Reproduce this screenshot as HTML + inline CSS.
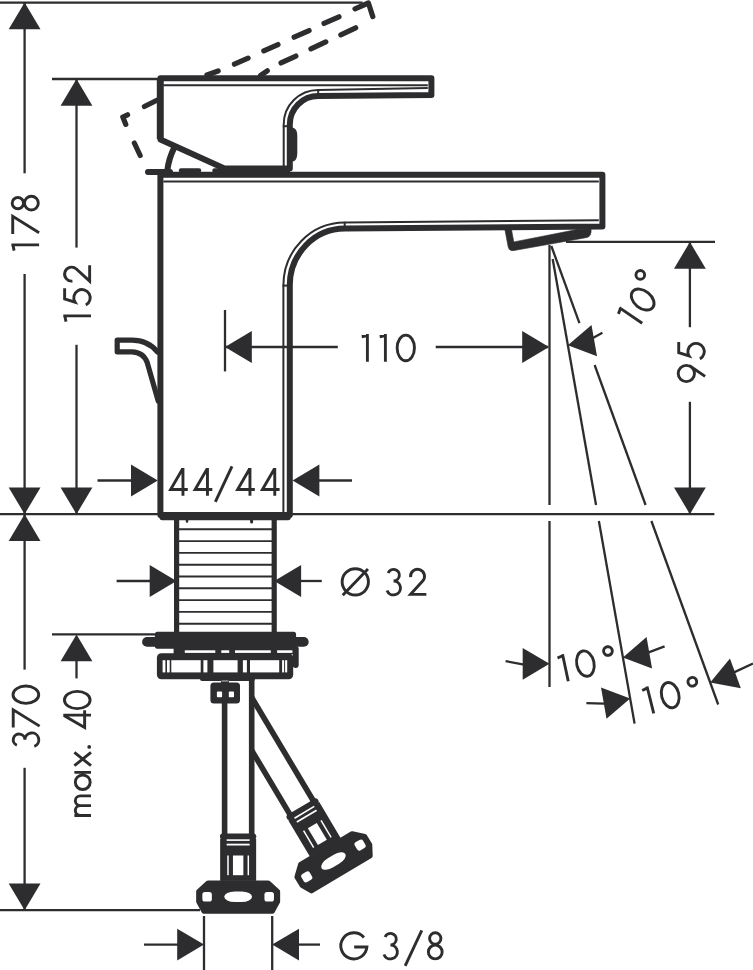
<!DOCTYPE html>
<html><head><meta charset="utf-8"><title>drawing</title>
<style>
html,body{margin:0;padding:0;background:#fff;}
svg{display:block;font-family:"Liberation Sans",sans-serif;}
</style></head><body>
<svg width="753" height="970" viewBox="0 0 753 970">
<rect width="753" height="970" fill="#fff"/>
<line x1="0" y1="2.6" x2="362.6" y2="2.6" stroke="#2d2d2f" stroke-width="2.3" stroke-linecap="butt" />
<line x1="24.6" y1="2.6" x2="24.6" y2="173.3" stroke="#2d2d2f" stroke-width="2.3" stroke-linecap="butt" />
<line x1="24.6" y1="274" x2="24.6" y2="514.2" stroke="#2d2d2f" stroke-width="2.3" stroke-linecap="butt" />
<polygon points="24.6,2.4 40.5,29.2 8.7,29.2" fill="#2d2d2f"/>
<polygon points="24.6,514.2 8.7,487.4 40.5,487.4" fill="#2d2d2f"/>
<line x1="52" y1="79" x2="160" y2="79" stroke="#2d2d2f" stroke-width="2.3" stroke-linecap="butt" />
<line x1="76.5" y1="79" x2="76.5" y2="247.6" stroke="#2d2d2f" stroke-width="2.3" stroke-linecap="butt" />
<line x1="76.5" y1="344.8" x2="76.5" y2="514.2" stroke="#2d2d2f" stroke-width="2.3" stroke-linecap="butt" />
<polygon points="76.5,79 92.4,105.8 60.6,105.8" fill="#2d2d2f"/>
<polygon points="76.5,514.2 60.6,487.4 92.4,487.4" fill="#2d2d2f"/>
<line x1="0" y1="514.2" x2="160" y2="514.2" stroke="#2d2d2f" stroke-width="2.3" stroke-linecap="butt" />
<line x1="292" y1="514.2" x2="714.4" y2="514.2" stroke="#2d2d2f" stroke-width="2.3" stroke-linecap="butt" />
<line x1="24.6" y1="514.2" x2="24.6" y2="669.6" stroke="#2d2d2f" stroke-width="2.3" stroke-linecap="butt" />
<line x1="24.6" y1="767.8" x2="24.6" y2="910.2" stroke="#2d2d2f" stroke-width="2.3" stroke-linecap="butt" />
<polygon points="24.6,514.2 40.5,541 8.7,541" fill="#2d2d2f"/>
<polygon points="24.6,910.2 8.7,883.4 40.5,883.4" fill="#2d2d2f"/>
<line x1="0" y1="910.2" x2="200" y2="910.2" stroke="#2d2d2f" stroke-width="2.3" stroke-linecap="butt" />
<line x1="52" y1="634.4" x2="160" y2="634.4" stroke="#2d2d2f" stroke-width="2.3" stroke-linecap="butt" />
<polygon points="76.5,634.4 92.4,661.2 60.6,661.2" fill="#2d2d2f"/>
<line x1="76.5" y1="655" x2="76.5" y2="678.4" stroke="#2d2d2f" stroke-width="2.3" stroke-linecap="butt" />
<line x1="566" y1="241.9" x2="715" y2="241.9" stroke="#2d2d2f" stroke-width="2.3" stroke-linecap="butt" />
<line x1="689.9" y1="241.9" x2="689.9" y2="327.2" stroke="#2d2d2f" stroke-width="2.3" stroke-linecap="butt" />
<line x1="689.9" y1="401.8" x2="689.9" y2="514.2" stroke="#2d2d2f" stroke-width="2.3" stroke-linecap="butt" />
<polygon points="689.9,241.9 705.8,268.7 674,268.7" fill="#2d2d2f"/>
<polygon points="689.9,514.2 674,487.4 705.8,487.4" fill="#2d2d2f"/>
<line x1="225" y1="310" x2="225" y2="371.4" stroke="#2d2d2f" stroke-width="2.3" stroke-linecap="butt" />
<line x1="225" y1="347" x2="337.8" y2="347" stroke="#2d2d2f" stroke-width="2.3" stroke-linecap="butt" />
<line x1="435.7" y1="347" x2="548" y2="347" stroke="#2d2d2f" stroke-width="2.3" stroke-linecap="butt" />
<polygon points="225,347 251.8,331.1 251.8,362.9" fill="#2d2d2f"/>
<polygon points="549,347 522.2,362.9 522.2,331.1" fill="#2d2d2f"/>
<line x1="97.5" y1="480.5" x2="135" y2="480.5" stroke="#2d2d2f" stroke-width="2.3" stroke-linecap="butt" />
<polygon points="157.8,480.5 131,496.4 131,464.6" fill="#2d2d2f"/>
<polygon points="292.6,480.5 319.4,464.6 319.4,496.4" fill="#2d2d2f"/>
<line x1="310" y1="480.5" x2="352" y2="480.5" stroke="#2d2d2f" stroke-width="2.3" stroke-linecap="butt" />
<line x1="116.6" y1="581" x2="152" y2="581" stroke="#2d2d2f" stroke-width="2.3" stroke-linecap="butt" />
<polygon points="176.5,581 149.7,596.9 149.7,565.1" fill="#2d2d2f"/>
<polygon points="274.3,581 301.1,565.1 301.1,596.9" fill="#2d2d2f"/>
<line x1="299" y1="581" x2="321.8" y2="581" stroke="#2d2d2f" stroke-width="2.3" stroke-linecap="butt" />
<line x1="204" y1="916" x2="204" y2="970" stroke="#2d2d2f" stroke-width="2.3" stroke-linecap="butt" />
<line x1="272.2" y1="916" x2="272.2" y2="970" stroke="#2d2d2f" stroke-width="2.3" stroke-linecap="butt" />
<line x1="144" y1="944.6" x2="180" y2="944.6" stroke="#2d2d2f" stroke-width="2.3" stroke-linecap="butt" />
<polygon points="204,944.6 177.2,960.5 177.2,928.7" fill="#2d2d2f"/>
<polygon points="272.2,944.6 299,928.7 299,960.5" fill="#2d2d2f"/>
<line x1="296" y1="944.6" x2="320" y2="944.6" stroke="#2d2d2f" stroke-width="2.3" stroke-linecap="butt" />
<line x1="549.5" y1="245" x2="549.5" y2="505" stroke="#2d2d2f" stroke-width="2.3" stroke-linecap="butt" />
<line x1="549.5" y1="521" x2="549.5" y2="687" stroke="#2d2d2f" stroke-width="2.3" stroke-linecap="butt" />
<line x1="552.67" y1="259" x2="596.05" y2="505" stroke="#2d2d2f" stroke-width="2.3" stroke-linecap="butt" />
<line x1="598.87" y1="521" x2="634.6" y2="723.6" stroke="#2d2d2f" stroke-width="2.3" stroke-linecap="butt" />
<line x1="551.32" y1="246" x2="579.42" y2="323.2" stroke="#2d2d2f" stroke-width="2.3" stroke-linecap="butt" />
<line x1="594.63" y1="365" x2="645.59" y2="505" stroke="#2d2d2f" stroke-width="2.3" stroke-linecap="butt" />
<line x1="651.41" y1="521" x2="718.2" y2="704.5" stroke="#2d2d2f" stroke-width="2.3" stroke-linecap="butt" />
<polygon points="549.5,663.8 522.7,679.7 522.7,647.9" fill="#2d2d2f"/>
<line x1="505.6" y1="661.1" x2="524" y2="664.6" stroke="#2d2d2f" stroke-width="2.3" stroke-linecap="butt" />
<polygon points="622.92,657.38 646.55,637.06 652.07,668.38" fill="#2d2d2f"/>
<line x1="648" y1="652.6" x2="664.6" y2="646.4" stroke="#2d2d2f" stroke-width="2.3" stroke-linecap="butt" />
<polygon points="630.16,698.44 606.53,718.76 601.01,687.44" fill="#2d2d2f"/>
<line x1="586.4" y1="703.2" x2="604.2" y2="703.7" stroke="#2d2d2f" stroke-width="2.3" stroke-linecap="butt" />
<polygon points="710.22,682.56 729.96,658.45 740.84,688.34" fill="#2d2d2f"/>
<line x1="734" y1="672.4" x2="753" y2="663.6" stroke="#2d2d2f" stroke-width="2.3" stroke-linecap="butt" />
<polygon points="567.87,345.19 591.5,324.88 597.03,356.2" fill="#2d2d2f"/>
<line x1="592.5" y1="338.2" x2="602.4" y2="332.8" stroke="#2d2d2f" stroke-width="2.3" stroke-linecap="butt" />
<line x1="206.94" y1="74.96" x2="218.16" y2="70.94" stroke="#2d2d2f" stroke-width="5.2" stroke-linecap="round" />
<line x1="234.41" y1="64.19" x2="248.09" y2="58.11" stroke="#2d2d2f" stroke-width="5.2" stroke-linecap="round" />
<line x1="263.81" y1="50.89" x2="277.99" y2="44.51" stroke="#2d2d2f" stroke-width="5.2" stroke-linecap="round" />
<line x1="294.11" y1="37.19" x2="309.09" y2="30.51" stroke="#2d2d2f" stroke-width="5.2" stroke-linecap="round" />
<line x1="324.01" y1="23.49" x2="338.99" y2="16.81" stroke="#2d2d2f" stroke-width="5.2" stroke-linecap="round" />
<line x1="260.62" y1="75.43" x2="267.28" y2="70.77" stroke="#2d2d2f" stroke-width="5.2" stroke-linecap="round" />
<line x1="281.01" y1="62.98" x2="295.89" y2="56.02" stroke="#2d2d2f" stroke-width="5.2" stroke-linecap="round" />
<line x1="310.91" y1="48.88" x2="325.79" y2="41.92" stroke="#2d2d2f" stroke-width="5.2" stroke-linecap="round" />
<line x1="340.81" y1="34.78" x2="355.69" y2="27.82" stroke="#2d2d2f" stroke-width="5.2" stroke-linecap="round" />
<line x1="144.39" y1="106.55" x2="156.91" y2="100.25" stroke="#2d2d2f" stroke-width="5.2" stroke-linecap="round" />
<line x1="134.32" y1="143.01" x2="140.18" y2="155.49" stroke="#2d2d2f" stroke-width="5.2" stroke-linecap="round" />
<path d="M355,8.8 L368.4,3 L372.8,16.6" stroke="#2d2d2f" stroke-width="5.2" fill="none" stroke-linejoin="round" stroke-linecap="round" />
<path d="M127.6,114.8 L122.8,117 L125.8,124.4" stroke="#2d2d2f" stroke-width="5.2" fill="none" stroke-linejoin="round" stroke-linecap="round" />
<path d="M160.4,174.8 L602.4,174.8 L602.4,226.4 L344.7,228.6 A55.1,56.6 0 0 0 289.8,285.2 L289.8,515.0 L160.4,515.0 Z" stroke="#2d2d2f" stroke-width="6.0" fill="none" stroke-linejoin="round" stroke-linecap="round" />
<path d="M163.3,181.5 L598.8,181.5" stroke="#2d2d2f" stroke-width="2.0" fill="none" stroke-linejoin="round" stroke-linecap="butt" />
<path d="M598.8,220.3 L344.7,222.6 A61.3,62.8 0 0 0 283.4,285.4 L283.4,512" stroke="#2d2d2f" stroke-width="2.0" fill="none" stroke-linejoin="round" stroke-linecap="butt" />
<line x1="344.7" y1="221.8" x2="344.7" y2="228.6" stroke="#2d2d2f" stroke-width="2.0" stroke-linecap="butt" />
<line x1="282.5" y1="285.6" x2="289.8" y2="285.6" stroke="#2d2d2f" stroke-width="2.0" stroke-linecap="butt" />
<path d="M504.8,229 L508.2,247 Q509.2,251.3 514,250.5 L587,237.5 Q591.8,236.2 591,229 L578,229.3 L513.8,241.9 L511.4,229 Z" stroke="#2d2d2f" stroke-width="0.6" fill="#2d2d2f" stroke-linejoin="round" stroke-linecap="round" />
<path d="M160.4,78.3 L431.4,78.3 L431.4,95 L318.2,96 A28.4,28.4 0 0 0 289.8,124.4 L289.8,168.5 L224.4,168.5 L160.4,139.4 Z" stroke="#2d2d2f" stroke-width="6.0" fill="none" stroke-linejoin="round" stroke-linecap="round" />
<rect x="224" y="166" width="66" height="10" fill="#2d2d2f"/>
<polygon points="214,171 224.4,166 240,166 240,173 214,173" fill="#2d2d2f"/>
<line x1="163.3" y1="85.2" x2="427.8" y2="85.2" stroke="#2d2d2f" stroke-width="2.0" stroke-linecap="butt" />
<path d="M427.8,88 L318.2,89.9 A34.5,34.5 0 0 0 283.7,124.4 L283.7,166" stroke="#2d2d2f" stroke-width="2.0" fill="none" stroke-linejoin="round" stroke-linecap="butt" />
<line x1="318.2" y1="89.2" x2="318.2" y2="96" stroke="#2d2d2f" stroke-width="2.0" stroke-linecap="butt" />
<line x1="282.8" y1="126.2" x2="289.8" y2="126.2" stroke="#2d2d2f" stroke-width="2.0" stroke-linecap="butt" />
<path d="M291,128.5 L293,128.5 Q296.6,129.5 296.6,136 L296.6,153 Q296.6,160 293,160.8 L291,160.8 Z" stroke="#2d2d2f" stroke-width="1.4" fill="#2d2d2f" stroke-linejoin="round" stroke-linecap="round" />
<line x1="148" y1="172" x2="170" y2="172" stroke="#2d2d2f" stroke-width="6.0" stroke-linecap="round" />
<path d="M167.2,171 Q168.8,158 174.6,147" stroke="#2d2d2f" stroke-width="6.0" fill="none" stroke-linejoin="round" stroke-linecap="round" />
<line x1="160.2" y1="79" x2="160.2" y2="139" stroke="#2d2d2f" stroke-width="6.8" stroke-linecap="butt" />
<line x1="181" y1="170.4" x2="199" y2="170.4" stroke="#2d2d2f" stroke-width="4.4" stroke-linecap="round" />
<line x1="214.5" y1="170.4" x2="222" y2="170.4" stroke="#2d2d2f" stroke-width="4.4" stroke-linecap="round" />
<path d="M157.6,352 Q148,340.1 131.9,340.1 L117.2,340.1 L117.2,351.8 L131.9,351.8 Q143.5,352.2 147.2,362.5 L158.2,401" stroke="#2d2d2f" stroke-width="5.2" fill="none" stroke-linejoin="round" stroke-linecap="round" />
<line x1="162.3" y1="517.5" x2="288" y2="517.5" stroke="#2d2d2f" stroke-width="5.6" stroke-linecap="round" />
<line x1="187" y1="520" x2="187" y2="521.5" stroke="#2d2d2f" stroke-width="2.5" stroke-linecap="round" />
<line x1="251.6" y1="520" x2="251.6" y2="522" stroke="#2d2d2f" stroke-width="3" stroke-linecap="round" />
<line x1="176.6" y1="515" x2="176.6" y2="655" stroke="#2d2d2f" stroke-width="5.2" stroke-linecap="butt" />
<line x1="274.2" y1="515" x2="274.2" y2="655" stroke="#2d2d2f" stroke-width="5.2" stroke-linecap="butt" />
<line x1="176.6" y1="529.3" x2="274.2" y2="529.3" stroke="#2d2d2f" stroke-width="1.9" stroke-linecap="butt" />
<line x1="176.6" y1="541.1" x2="274.2" y2="541.1" stroke="#2d2d2f" stroke-width="1.9" stroke-linecap="butt" />
<line x1="176.6" y1="552.9" x2="274.2" y2="552.9" stroke="#2d2d2f" stroke-width="1.9" stroke-linecap="butt" />
<line x1="176.6" y1="564.7" x2="274.2" y2="564.7" stroke="#2d2d2f" stroke-width="1.9" stroke-linecap="butt" />
<line x1="176.6" y1="576.5" x2="274.2" y2="576.5" stroke="#2d2d2f" stroke-width="1.9" stroke-linecap="butt" />
<line x1="176.6" y1="588.3" x2="274.2" y2="588.3" stroke="#2d2d2f" stroke-width="1.9" stroke-linecap="butt" />
<line x1="176.6" y1="600.1" x2="274.2" y2="600.1" stroke="#2d2d2f" stroke-width="1.9" stroke-linecap="butt" />
<line x1="176.6" y1="611.9" x2="274.2" y2="611.9" stroke="#2d2d2f" stroke-width="1.9" stroke-linecap="butt" />
<line x1="176.6" y1="623.7" x2="274.2" y2="623.7" stroke="#2d2d2f" stroke-width="1.9" stroke-linecap="butt" />
<path d="M157.4,634.2 L293.6,634.2 L293.6,646.2 L157.4,646.2 Z" stroke="#2d2d2f" stroke-width="5" fill="#2d2d2f" stroke-linejoin="round" stroke-linecap="round" />
<line x1="147" y1="641.9" x2="303.8" y2="641.9" stroke="#2d2d2f" stroke-width="9.8" stroke-linecap="round" />
<rect x="173.6" y="646" width="120" height="8" fill="#2d2d2f"/>
<rect x="184.8" y="650.3" width="30.5" height="2.6" fill="#fff"/>
<rect x="221.3" y="650.3" width="7.9" height="2.6" fill="#fff"/>
<rect x="235" y="650.3" width="35.8" height="2.6" fill="#fff"/>
<rect x="277.1" y="650.3" width="15.5" height="2.6" fill="#fff"/>
<path d="M295.7,649 L295.7,665" stroke="#2d2d2f" stroke-width="6" fill="none" stroke-linejoin="round" stroke-linecap="round" />
<rect x="156.9" y="653.2" width="136.3" height="26" rx="4.5" fill="#2d2d2f"/>
<rect x="200" y="676" width="55" height="5" rx="2" fill="#2d2d2f"/>
<rect x="162.6" y="660.2" width="2.8" height="12.2" fill="#fff"/>
<rect x="167" y="660.2" width="2.7" height="12.2" fill="#fff"/>
<rect x="171.3" y="660.2" width="29.4" height="12.2" fill="#fff"/>
<rect x="203.4" y="660.2" width="4.0" height="12.2" fill="#fff"/>
<rect x="213.4" y="660.2" width="24.2" height="12.2" fill="#fff"/>
<rect x="242.9" y="660.2" width="4.0" height="12.2" fill="#fff"/>
<rect x="250" y="660.2" width="29.2" height="12.2" fill="#fff"/>
<rect x="282.1" y="660.2" width="2.0" height="12.2" fill="#fff"/>
<rect x="285.1" y="660.2" width="2.1" height="12.2" fill="#fff"/>
<rect x="210.4" y="682.4" width="29.6" height="21.2" rx="3.5" fill="#2d2d2f"/>
<rect x="216.9" y="691.6" width="5.2" height="5.6" rx="0.8" fill="#fff"/>
<rect x="228.8" y="691.6" width="5.2" height="5.6" rx="0.8" fill="#fff"/>
<rect x="221" y="679" width="8" height="5" fill="#2d2d2f"/>
<rect x="221.5" y="680.3" width="7" height="1.4" fill="#9a9a9a"/>
<line x1="224.6" y1="700" x2="224.6" y2="836" stroke="#2d2d2f" stroke-width="5.6" stroke-linecap="butt" />
<line x1="251.7" y1="678" x2="251.7" y2="836" stroke="#2d2d2f" stroke-width="5.6" stroke-linecap="butt" />
<g transform="translate(238.15 896.9)"><line x1="-15.3" y1="-60.4" x2="15.3" y2="-60.4" stroke="#2d2d2f" stroke-width="5.8" stroke-linecap="round"/>
<rect x="-18" y="-58" width="36" height="42" fill="#2d2d2f"/>
<rect x="-11.5" y="-57.6" width="23" height="1.6" fill="#fff"/>
<rect x="-11.5" y="-53.2" width="23" height="1.8" fill="#fff"/>
<rect x="-5.2" y="-41.4" width="10.4" height="19.7" fill="#fff"/>
<rect x="-10.9" y="-41.4" width="1.5" height="19.7" fill="#fff"/>
<rect x="9.4" y="-41.4" width="1.5" height="19.7" fill="#fff"/>
<path d="M-30,-14 L30,-14 L39.5,-5.2 L39.5,4.6 L34.2,14.3 L-34.2,14.3 L-39.5,4.6 L-39.5,-5.2 Z" fill="#2d2d2f" stroke="#2d2d2f" stroke-width="5" stroke-linejoin="round"/>
<rect x="-35.8" y="-4.9" width="9.5" height="9.5" rx="2.6" fill="#fff"/>
<rect x="26.3" y="-4.9" width="9.5" height="9.5" rx="2.6" fill="#fff"/>
<rect x="-13.9" y="-5.3" width="27.8" height="10.4" rx="10.5" ry="5.2" fill="#fff"/></g>
<line x1="251.7" y1="697.42" x2="313.9" y2="801.77" stroke="#2d2d2f" stroke-width="5.6" stroke-linecap="butt" />
<line x1="251.7" y1="750.34" x2="290.63" y2="815.64" stroke="#2d2d2f" stroke-width="5.6" stroke-linecap="butt" />
<g transform="translate(333.5 861.1) rotate(-30.8)"><line x1="-15.3" y1="-60.4" x2="15.3" y2="-60.4" stroke="#2d2d2f" stroke-width="5.8" stroke-linecap="round"/>
<rect x="-18" y="-58" width="36" height="42" fill="#2d2d2f"/>
<rect x="-11.5" y="-57.6" width="23" height="1.6" fill="#fff"/>
<rect x="-11.5" y="-53.2" width="23" height="1.8" fill="#fff"/>
<rect x="-5.2" y="-41.4" width="10.4" height="19.7" fill="#fff"/>
<rect x="-10.9" y="-41.4" width="1.5" height="19.7" fill="#fff"/>
<rect x="9.4" y="-41.4" width="1.5" height="19.7" fill="#fff"/>
<path d="M-30,-14 L30,-14 L39.5,-5.2 L39.5,4.6 L34.2,14.3 L-34.2,14.3 L-39.5,4.6 L-39.5,-5.2 Z" fill="#2d2d2f" stroke="#2d2d2f" stroke-width="5" stroke-linejoin="round"/>
<rect x="-35.8" y="-4.9" width="9.5" height="9.5" rx="2.6" fill="#fff"/>
<rect x="26.3" y="-4.9" width="9.5" height="9.5" rx="2.6" fill="#fff"/>
<rect x="-13.9" y="-5.3" width="27.8" height="10.4" rx="10.5" ry="5.2" fill="#fff"/></g>
<g transform="translate(39.1 250.8) rotate(-90)" stroke="#2d2d2f" stroke-width="2.9" fill="none" stroke-linecap="butt" stroke-linejoin="miter">
<path transform="translate(0 -27.7) scale(0.277)" d="M0.8,9.8 L22,5.3 M21.3,0 L21.3,100" vector-effect="non-scaling-stroke"/>
<path transform="translate(16.7 -27.7) scale(0.277)" d="M0,4.8 L64,4.8 L5,100" vector-effect="non-scaling-stroke"/>
<path transform="translate(39.4 -27.7) scale(0.277)" d="M29.8,2.9 A20.4,20.4 0 1 1 29.8,43.7 A20.4,20.4 0 1 1 29.8,2.9 Z M29.8,47.3 A24.9,24.9 0 1 1 29.8,97.1 A24.9,24.9 0 1 1 29.8,47.3 Z" vector-effect="non-scaling-stroke"/>
</g>
<g transform="translate(91 321.8) rotate(-90)" stroke="#2d2d2f" stroke-width="2.9" fill="none" stroke-linecap="butt" stroke-linejoin="miter">
<path transform="translate(0 -27.7) scale(0.277)" d="M0.8,9.8 L22,5.3 M21.3,0 L21.3,100" vector-effect="non-scaling-stroke"/>
<path transform="translate(14.9 -27.7) scale(0.277)" d="M67.5,4.8 L29,4.8 L17.3,42.2 A29.65,29.65 0 1 1 6.6,81.2" vector-effect="non-scaling-stroke"/>
<path transform="translate(39 -27.7) scale(0.277)" d="M6.2,33 A25.2,25.2 0 1 1 49.7,47.1 L6,95.1 L63,95.1" vector-effect="non-scaling-stroke"/>
</g>
<g transform="translate(39.6 747.6) rotate(-90)" stroke="#2d2d2f" stroke-width="2.9" fill="none" stroke-linecap="butt" stroke-linejoin="miter">
<path transform="translate(0 -27.7) scale(0.277)" d="M8.5,18 A21,21 0 1 1 28,46.9 A25.1,25.1 0 1 1 4.5,81" vector-effect="non-scaling-stroke"/>
<path transform="translate(20.1 -27.7) scale(0.277)" d="M0,4.8 L64,4.8 L5,100" vector-effect="non-scaling-stroke"/>
<path transform="translate(42.9 -27.7) scale(0.277)" d="M36.1,4 A31.2,46.4 0 1 1 36.1,96.8 A31.2,46.4 0 1 1 36.1,4 Z" vector-effect="non-scaling-stroke"/>
</g>
<g transform="translate(91 816.8) rotate(-90)" stroke="#2d2d2f" stroke-width="2.9" fill="none" stroke-linecap="butt" stroke-linejoin="miter">
<path transform="translate(0 -27.7) scale(0.277)" d="M4.9,40 L4.9,100 M4.9,62 A17.65,18.6 0 0 1 40.2,62 L40.2,100 M40.2,62 A17.65,18.6 0 0 1 75.6,62 L75.6,100" vector-effect="non-scaling-stroke"/>
<path transform="translate(26 -27.7) scale(0.277)" d="M31,43.4 A26.2,26.8 0 1 1 31,97 A26.2,26.8 0 1 1 31,43.4 Z M66.5,40 L66.5,100" vector-effect="non-scaling-stroke"/>
<path transform="translate(50 -27.7) scale(0.277)" d="M4,40 L52,100 M52,40 L4,100" vector-effect="non-scaling-stroke"/>
<path transform="translate(68.2 -27.7) scale(0.277)" d="M6,93.5 L6.1,93.5" vector-effect="non-scaling-stroke" stroke-linecap="round" stroke-width="3.7"/>
<path transform="translate(86.7 -27.7) scale(0.277)" d="M54,100 L54,0 M53,2 L9.4,77 L71.5,77" vector-effect="non-scaling-stroke"/>
<path transform="translate(106.8 -27.7) scale(0.277)" d="M36.1,4 A31.2,46.4 0 1 1 36.1,96.8 A31.2,46.4 0 1 1 36.1,4 Z" vector-effect="non-scaling-stroke"/>
</g>
<g transform="translate(705.1 383) rotate(-90)" stroke="#2d2d2f" stroke-width="2.9" fill="none" stroke-linecap="butt" stroke-linejoin="miter">
<path transform="translate(0 -27.7) scale(0.277)" d="M34.3,2.9 A29.4,29.4 0 1 1 34.3,61.7 A29.4,29.4 0 1 1 34.3,2.9 Z M62.5,44 L24,100" vector-effect="non-scaling-stroke"/>
<path transform="translate(22.3 -27.7) scale(0.277)" d="M67.5,4.8 L29,4.8 L17.3,42.2 A29.65,29.65 0 1 1 6.6,81.2" vector-effect="non-scaling-stroke"/>
</g>
<g transform="translate(361.5 361.7) rotate(0)" stroke="#2d2d2f" stroke-width="2.9" fill="none" stroke-linecap="butt" stroke-linejoin="miter">
<path transform="translate(0 -27.7) scale(0.277)" d="M0.8,9.8 L22,5.3 M21.3,0 L21.3,100" vector-effect="non-scaling-stroke"/>
<path transform="translate(18 -27.7) scale(0.277)" d="M0.8,9.8 L22,5.3 M21.3,0 L21.3,100" vector-effect="non-scaling-stroke"/>
<path transform="translate(34.3 -27.7) scale(0.277)" d="M36.1,4 A31.2,46.4 0 1 1 36.1,96.8 A31.2,46.4 0 1 1 36.1,4 Z" vector-effect="non-scaling-stroke"/>
</g>
<g transform="translate(168 495.8) rotate(0)" stroke="#2d2d2f" stroke-width="2.9" fill="none" stroke-linecap="butt" stroke-linejoin="miter">
<path transform="translate(0 -27.7) scale(0.277)" d="M54,100 L54,0 M53,2 L9.4,77 L71.5,77" vector-effect="non-scaling-stroke"/>
<path transform="translate(24.5 -27.7) scale(0.277)" d="M54,100 L54,0 M53,2 L9.4,77 L71.5,77" vector-effect="non-scaling-stroke"/>
<path transform="translate(46.8 -27.7) scale(0.277)" d="M2,122 L62,-6" vector-effect="non-scaling-stroke"/>
<path transform="translate(67 -27.7) scale(0.277)" d="M54,100 L54,0 M53,2 L9.4,77 L71.5,77" vector-effect="non-scaling-stroke"/>
<path transform="translate(91.8 -27.7) scale(0.277)" d="M54,100 L54,0 M53,2 L9.4,77 L71.5,77" vector-effect="non-scaling-stroke"/>
</g>
<g transform="translate(340.8 595.7) rotate(0)" stroke="#2d2d2f" stroke-width="2.9" fill="none" stroke-linecap="butt" stroke-linejoin="miter">
<path transform="translate(0 -27.7) scale(0.277)" d="M7,98.5 L98,3.5 M52.3,2.5 A47.5,47.5 0 1 1 52.3,97.5 A47.5,47.5 0 1 1 52.3,2.5 Z" vector-effect="non-scaling-stroke"/>
<path transform="translate(45 -27.7) scale(0.277)" d="M8.5,18 A21,21 0 1 1 28,46.9 A25.1,25.1 0 1 1 4.5,81" vector-effect="non-scaling-stroke"/>
<path transform="translate(68.1 -27.7) scale(0.277)" d="M6.2,33 A25.2,25.2 0 1 1 49.7,47.1 L6,95.1 L63,95.1" vector-effect="non-scaling-stroke"/>
</g>
<g transform="translate(339.5 959.7) rotate(0)" stroke="#2d2d2f" stroke-width="2.9" fill="none" stroke-linecap="butt" stroke-linejoin="miter">
<path transform="translate(0 -27.7) scale(0.277)" d="M88.2,19.7 A47.2,47.2 0 1 0 99,54 L53,54" vector-effect="non-scaling-stroke"/>
<path transform="translate(43.2 -27.7) scale(0.277)" d="M8.5,18 A21,21 0 1 1 28,46.9 A25.1,25.1 0 1 1 4.5,81" vector-effect="non-scaling-stroke"/>
<path transform="translate(65.1 -27.7) scale(0.277)" d="M2,122 L62,-6" vector-effect="non-scaling-stroke"/>
<path transform="translate(87.5 -27.7) scale(0.277)" d="M29.8,2.9 A20.4,20.4 0 1 1 29.8,43.7 A20.4,20.4 0 1 1 29.8,2.9 Z M29.8,47.3 A24.9,24.9 0 1 1 29.8,97.1 A24.9,24.9 0 1 1 29.8,47.3 Z" vector-effect="non-scaling-stroke"/>
</g>
<g transform="translate(638.9 328.1) rotate(-55.8)" stroke="#2d2d2f" stroke-width="2.9" fill="none" stroke-linecap="butt" stroke-linejoin="miter">
<path transform="translate(0 -27.7) scale(0.277)" d="M0.8,9.8 L22,5.3 M21.3,0 L21.3,100" vector-effect="non-scaling-stroke"/>
</g>
<g transform="translate(642.6 299.5) rotate(-51)" stroke="#2d2d2f" stroke-width="2.9" fill="none"><path transform="scale(0.277) translate(-36.0 -50)" d="M36.1,4 A31.2,46.4 0 1 1 36.1,96.8 A31.2,46.4 0 1 1 36.1,4 Z" vector-effect="non-scaling-stroke"/></g>
<g transform="translate(640.3 274.9) rotate(0)" stroke="#2d2d2f" stroke-width="2.9" fill="none"><path transform="scale(0.277) translate(-20.6 -23)" d="M20.6,7.3 A15.7,15.7 0 1 1 20.6,38.7 A15.7,15.7 0 1 1 20.6,7.3 Z" vector-effect="non-scaling-stroke"/></g>
<g transform="translate(562.5 682.5) rotate(-12)" stroke="#2d2d2f" stroke-width="2.9" fill="none" stroke-linecap="butt" stroke-linejoin="miter">
<path transform="translate(0 -27.7) scale(0.277)" d="M0.8,9.8 L22,5.3 M21.3,0 L21.3,100" vector-effect="non-scaling-stroke"/>
<path transform="translate(16.3 -27.7) scale(0.277)" d="M36.1,4 A31.2,46.4 0 1 1 36.1,96.8 A31.2,46.4 0 1 1 36.1,4 Z" vector-effect="non-scaling-stroke"/>
<path transform="translate(45.3 -27.7) scale(0.277)" d="M20.6,7.3 A15.7,15.7 0 1 1 20.6,38.7 A15.7,15.7 0 1 1 20.6,7.3 Z" vector-effect="non-scaling-stroke"/>
</g>
<g transform="translate(648 714.8) rotate(-14)" stroke="#2d2d2f" stroke-width="2.9" fill="none" stroke-linecap="butt" stroke-linejoin="miter">
<path transform="translate(0 -27.7) scale(0.277)" d="M0.8,9.8 L22,5.3 M21.3,0 L21.3,100" vector-effect="non-scaling-stroke"/>
<path transform="translate(16.3 -27.7) scale(0.277)" d="M36.1,4 A31.2,46.4 0 1 1 36.1,96.8 A31.2,46.4 0 1 1 36.1,4 Z" vector-effect="non-scaling-stroke"/>
<path transform="translate(45.3 -27.7) scale(0.277)" d="M20.6,7.3 A15.7,15.7 0 1 1 20.6,38.7 A15.7,15.7 0 1 1 20.6,7.3 Z" vector-effect="non-scaling-stroke"/>
</g>
</svg>
</body></html>
